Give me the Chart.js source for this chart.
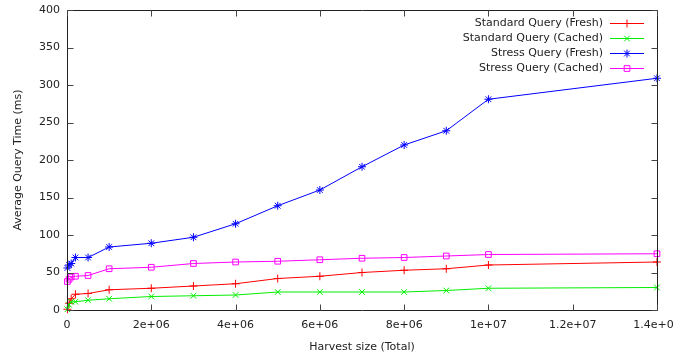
<!DOCTYPE html>
<html>
<head>
<meta charset="utf-8">
<script src="https://cdn.jsdelivr.net/npm/chart.js@4/dist/chart.umd.min.js"></script>
<style>
  html, body { margin: 0; padding: 0; background: #fff; }
  #wrap { width: 673px; height: 358px; }
</style>
</head>
<body>
<div id="wrap"><canvas id="c" width="673" height="358"></canvas></div>
<script>
const harvestSizes = [10000, 50000, 100000, 200000, 500000, 1000000, 2000000, 3000000, 4000000, 5000000, 6000000, 7000000, 8000000, 9000000, 10000000, 14000000];
const standardFresh = [1, 9, 15, 21, 22, 27, 29, 32, 35, 42, 45, 50, 53, 55, 60, 64];
const standardCached = [1, 7, 11, 11, 13, 15, 18, 19, 20, 24, 24, 24, 24, 26, 29, 30];
const stressFresh = [56, 60, 62, 70, 70, 84, 89, 97, 115, 139, 160, 191, 220, 239, 281, 309];
const stressCached = [38, 41, 44, 45, 46, 55, 57, 62, 64, 65, 67, 69, 70, 72, 74, 75];

const seriesNames = ['Standard Query (Fresh)', 'Standard Query (Cached)', 'Stress Query (Fresh)', 'Stress Query (Cached)'];
const seriesColors = ['#ff0000', '#00ee00', '#0000ff', '#ff00ff'];
const seriesMarkers = ['cross', 'crossRot', 'star', 'rect'];
const seriesValues = [standardFresh, standardCached, stressFresh, stressCached];

const xTickValues = [0, 2000000, 4000000, 6000000, 8000000, 10000000, 12000000, 14000000];
const xTickLabels = ['0', '2e+06', '4e+06', '6e+06', '8e+06', '1e+07', '1.2e+07', '1.4e+07'];
const yTickValues = [0, 50, 100, 150, 200, 250, 300, 350, 400];

const FONT = 'DejaVu Sans';
const TEXT = '#222';

const datasets = seriesValues.map((vals, i) => ({
  label: seriesNames[i],
  data: harvestSizes.map((x, j) => ({x: x, y: vals[j]})),
  borderColor: seriesColors[i],
  backgroundColor: 'rgba(0,0,0,0)',
  borderWidth: 1,
  pointStyle: seriesMarkers[i],
  pointRadius: 4,
  pointBorderWidth: 1,
  pointBorderColor: seriesColors[i],
  pointBackgroundColor: 'rgba(0,0,0,0)',
  tension: 0,
  clip: 8,
  order: 4 - i
}));

const framePlugin = {
  id: 'frame',
  afterDraw(chart) {
    const {ctx, chartArea: a, scales} = chart;
    ctx.save();
    ctx.strokeStyle = '#222';
    ctx.lineWidth = 1;
    ctx.beginPath();
    const L = Math.round(a.left) + 0.5, R = Math.round(a.right) + 0.5;
    const T = Math.round(a.top) + 0.5, B = Math.round(a.bottom) + 0.5;
    ctx.rect(L, T, R - L, B - T);
    ctx.stroke();
    ctx.strokeStyle = '#444';
    ctx.beginPath();
    const tl = 6;
    xTickValues.forEach(v => {
      const px = Math.round(scales.x.getPixelForValue(v)) + 0.5;
      ctx.moveTo(px, B); ctx.lineTo(px, B - tl);
      ctx.moveTo(px, T); ctx.lineTo(px, T + tl);
    });
    yTickValues.forEach(v => {
      const py = Math.round(scales.y.getPixelForValue(v)) + 0.5;
      ctx.moveTo(L, py); ctx.lineTo(L + tl, py);
      ctx.moveTo(R, py); ctx.lineTo(R - tl, py);
    });
    ctx.stroke();

    // legend (gnuplot style, top right inside plot)
    ctx.font = '11px "' + FONT + '"';
    ctx.textAlign = 'right';
    ctx.textBaseline = 'middle';
    const textRight = 603;
    const lineL = 610, lineR = 644, markX = 627;
    seriesNames.forEach((name, i) => {
      const y = 23.5 + i * 15;
      ctx.fillStyle = TEXT;
      ctx.fillText(name, textRight, y);
      ctx.strokeStyle = seriesColors[i];
      ctx.lineWidth = 1;
      ctx.beginPath();
      ctx.moveTo(lineL, y); ctx.lineTo(lineR, y);
      ctx.stroke();
      ctx.fillStyle = 'rgba(0,0,0,0)';
      Chart.helpers.drawPoint(ctx, {pointStyle: seriesMarkers[i], radius: 4, rotation: 0, borderWidth: 1}, markX, y);
    });
    ctx.restore();
  }
};

new Chart(document.getElementById('c'), {
  type: 'line',
  data: { datasets },
  options: {
    responsive: false,
    animation: false,
    devicePixelRatio: 1,
    layout: { padding: { top: 10, right: 16, left: 0, bottom: 0 } },
    plugins: { legend: { display: false }, tooltip: { enabled: false } },
    scales: {
      x: {
        type: 'linear',
        min: 0, max: 14000000,
        grid: { display: false, drawTicks: false },
        border: { display: false },
        afterBuildTicks(scale) { scale.ticks = xTickValues.map(v => ({value: v})); },
        afterFit(scale) { scale.height = 48; scale.paddingLeft = 0; scale.paddingRight = 0; },
        ticks: {
          padding: 9,
          maxRotation: 0,
          autoSkip: false,
          color: TEXT,
          font: { family: FONT, size: 11 },
          callback(v) { const k = xTickValues.indexOf(v); return k >= 0 ? xTickLabels[k] : ''; }
        },
        title: {
          display: true,
          text: 'Harvest size (Total)',
          color: TEXT,
          font: { family: FONT, size: 11 },
          padding: { top: 0, bottom: 4 }
        }
      },
      y: {
        type: 'linear',
        min: 0, max: 400,
        grid: { display: false, drawTicks: false },
        border: { display: false },
        afterBuildTicks(scale) { scale.ticks = yTickValues.map(v => ({value: v})); },
        afterFit(scale) { scale.width = 67; scale.paddingTop = 0; scale.paddingBottom = 0; },
        ticks: {
          padding: 7,
          color: TEXT,
          font: { family: FONT, size: 11 },
          callback(v) { return String(v); }
        },
        title: {
          display: true,
          text: 'Average Query Time (ms)',
          color: TEXT,
          font: { family: FONT, size: 11 },
          padding: { top: 12, bottom: 0 }
        }
      }
    }
  },
  plugins: [framePlugin]
});
</script>
</body>
</html>
